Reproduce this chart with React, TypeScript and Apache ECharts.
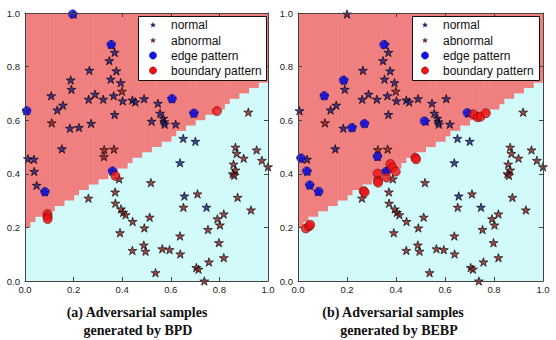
import React, { useEffect, useRef } from "react";
import * as echarts from "echarts";

// ---- data ----
const meshStep = 0.02;
// height of the decision boundary per mesh column (x from i*0.02 to (i+1)*0.02)
const boundaryHeights = [
  0.2, 0.22, 0.24, 0.24, 0.26, 0.26, 0.28, 0.28, 0.3, 0.3,
  0.32, 0.34, 0.34, 0.36, 0.36, 0.38, 0.38, 0.4, 0.4, 0.42,
  0.42, 0.44, 0.46, 0.46, 0.48, 0.48, 0.5, 0.5, 0.52, 0.52,
  0.54, 0.56, 0.56, 0.58, 0.58, 0.6, 0.6, 0.62, 0.62, 0.64,
  0.64, 0.66, 0.68, 0.68, 0.7, 0.7, 0.72, 0.72, 0.74, 0.74,
];

const normalStars = [
  [0.369, 0.853], [0.347, 0.822], [0.265, 0.786], [0.376, 0.784], [0.188, 0.75],
  [0.353, 0.753], [0.394, 0.74], [0.191, 0.715], [0.108, 0.691], [0.288, 0.697],
  [0.365, 0.691], [0.262, 0.678], [0.322, 0.678], [0.402, 0.672], [0.442, 0.675],
  [0.454, 0.668], [0.49, 0.68], [0.547, 0.663], [0.156, 0.656], [0.133, 0.638],
  [0.369, 0.621], [0.556, 0.626], [0.569, 0.607], [0.573, 0.594], [0.575, 0.585],
  [0.185, 0.57], [0.222, 0.573], [0.272, 0.588], [0.521, 0.596], [0.62, 0.585],
  [0.651, 0.532], [0.701, 0.521], [0.152, 0.493], [0.012, 0.456], [0.037, 0.454],
  [0.038, 0.409], [0.048, 0.357], [0.638, 0.441], [0.656, 0.317], [0.747, 0.275],
  [0.2, 0.996], [0.006, 0.635], [0.605, 0.68], [0.695, 0.626], [0.082, 0.333],
  [0.36, 0.41], [0.355, 0.882],
];

const abnormalStars = [
  [0.399, 0.708], [0.11, 0.59], [0.919, 0.63], [0.866, 0.499], [0.953, 0.489],
  [0.326, 0.49], [0.366, 0.492], [0.325, 0.464], [0.387, 0.381], [0.261, 0.309],
  [0.371, 0.332], [0.372, 0.29], [0.395, 0.269], [0.404, 0.256], [0.414, 0.247],
  [0.443, 0.222], [0.391, 0.18], [0.442, 0.114], [0.518, 0.367], [0.513, 0.238],
  [0.491, 0.198], [0.489, 0.134], [0.496, 0.111], [0.537, 0.031], [0.565, 0.12],
  [0.595, 0.117], [0.638, 0.168], [0.639, 0.101], [0.652, 0.275], [0.71, 0.325],
  [0.753, 0.192], [0.705, 0.05], [0.714, 0.044], [0.757, 0.071], [0.738, 0.0],
  [0.792, 0.232], [0.802, 0.209], [0.818, 0.25], [0.798, 0.143], [0.818, 0.087],
  [0.875, 0.312], [0.93, 0.265], [0.871, 0.476], [0.9, 0.458], [0.975, 0.45],
  [1.0, 0.426], [0.858, 0.436], [0.866, 0.414], [0.855, 0.4], [0.861, 0.394],
];

const edgeBPD = [
  [0.196, 0.996], [0.355, 0.882], [0.605, 0.68], [0.007, 0.635], [0.695, 0.626],
  [0.082, 0.333], [0.36, 0.41],
];
const boundaryBPD = [
  [0.79, 0.634], [0.093, 0.25], [0.093, 0.24], [0.093, 0.231], [0.372, 0.392],
];

const edgeBEBP = [
  [0.351, 0.882], [0.186, 0.749], [0.107, 0.691], [0.271, 0.587], [0.22, 0.572],
  [0.516, 0.597], [0.691, 0.628], [0.012, 0.459], [0.036, 0.41], [0.048, 0.358],
  [0.085, 0.334], [0.324, 0.465], [0.36, 0.409],
];
const boundaryBEBP = [
  [0.716, 0.622], [0.733, 0.611], [0.745, 0.613], [0.767, 0.626], [0.032, 0.196],
  [0.045, 0.204], [0.05, 0.21], [0.268, 0.336], [0.272, 0.331], [0.325, 0.401],
  [0.326, 0.374], [0.327, 0.367], [0.362, 0.386], [0.377, 0.437], [0.386, 0.423],
  [0.399, 0.408], [0.479, 0.46], [0.482, 0.454],
];

const legendNames = ["normal", "abnormal", "edge pattern", "boundary pattern"];
const captions = [
  ["(a) Adversarial samples", "generated by BPD"],
  ["(b) Adversarial samples", "generated by BEBP"],
];

// ---- styling ----
const RED_REGION = "#f08080";
const CYAN_REGION = "#d2fafa";
const NORMAL_COLOR = "#1c1c80";
const ABNORMAL_COLOR = "#8c1c1c";
const EDGE_COLOR = "#1212e8";
const BOUND_COLOR = "#ee1212";

const STAR =
  "path://M0,-50 L11.17,-15.37 L47.55,-15.45 L18.07,5.87 L29.39,40.45 L0,19 L-29.39,40.45 L-18.07,5.87 L-47.55,-15.45 L-11.17,-15.37 Z";

function starPoints(cx: number, cy: number, r: number) {
  const pts: number[][] = [];
  for (let k = 0; k < 10; k++) {
    const ang = (-90 + k * 36) * (Math.PI / 180);
    const rr = k % 2 === 0 ? r : r * 0.38;
    pts.push([cx + rr * Math.cos(ang), cy + rr * Math.sin(ang)]);
  }
  return pts;
}

const grids = [
  { left: 25, top: 13, width: 243, height: 268 },
  { left: 298, top: 13, width: 245, height: 268 },
];

export default function App() {
  const ref = useRef<HTMLDivElement>(null);

  useEffect(() => {
    if (!ref.current) return;
    const chart = echarts.init(ref.current, null, { renderer: "svg" });

    const regionData = boundaryHeights.map((h, i) => [i * meshStep, (i + 1) * meshStep, h]);
    const labelStyle = { fontSize: 9.5, color: "#1a1a1a", fontFamily: "Liberation Sans" };

    const xAxes: any[] = [];
    const yAxes: any[] = [];
    const series: any[] = [];
    grids.forEach((g, gi) => {
      const base = {
        gridIndex: gi,
        type: "value",
        min: 0,
        max: 1,
        interval: 0.2,
        z: 10,
        splitLine: { show: false },
        axisLine: { show: true, onZero: false, lineStyle: { color: "#444", width: 1 } },
        axisTick: { show: true, inside: true, length: 4, lineStyle: { color: "#444" } },
      };
      xAxes.push({
        ...base,
        position: "bottom",
        axisLabel: { ...labelStyle, margin: 3, formatter: (v: number) => v.toFixed(1) },
      });
      xAxes.push({ ...base, position: "top", axisLabel: { show: false } });
      yAxes.push({
        ...base,
        position: "left",
        axisLabel: { ...labelStyle, margin: 5, formatter: (v: number) => v.toFixed(1) },
      });
      yAxes.push({ ...base, position: "right", axisLabel: { show: false } });

      const xi = gi * 2;
      const yi = gi * 2;
      series.push({
        type: "custom",
        xAxisIndex: xi,
        yAxisIndex: yi,
        z: 1,
        silent: true,
        clip: true,
        encode: { x: [0, 1], y: 2 },
        data: regionData,
        renderItem: (params: any, api: any) => {
          const p0 = api.coord([api.value(0), 1]);
          const p1 = api.coord([api.value(1), api.value(2)]);
          return {
            type: "rect",
            shape: { x: p0[0], y: p0[1], width: p1[0] - p0[0] + 0.6, height: p1[1] - p0[1] },
            style: { fill: RED_REGION, stroke: null },
          };
        },
      });
      const starStyle = (c: string) => ({ color: c, borderColor: "#000", borderWidth: 0.8 });
      series.push({
        name: legendNames[0],
        type: "scatter",
        xAxisIndex: xi,
        yAxisIndex: yi,
        z: 2,
        symbol: STAR,
        symbolKeepAspect: true,
        symbolSize: 9,
        itemStyle: starStyle(NORMAL_COLOR),
        data: normalStars,
      });
      series.push({
        name: legendNames[1],
        type: "scatter",
        xAxisIndex: xi,
        yAxisIndex: yi,
        z: 3,
        symbol: STAR,
        symbolKeepAspect: true,
        symbolSize: 9,
        itemStyle: starStyle(ABNORMAL_COLOR),
        data: abnormalStars,
      });
      series.push({
        name: legendNames[2],
        type: "scatter",
        xAxisIndex: xi,
        yAxisIndex: yi,
        z: 4,
        symbol: "circle",
        symbolSize: 8.5,
        itemStyle: { color: EDGE_COLOR, borderColor: "#00006a", borderWidth: 0.6 },
        data: gi === 0 ? edgeBPD : edgeBEBP,
      });
      series.push({
        name: legendNames[3],
        type: "scatter",
        xAxisIndex: xi,
        yAxisIndex: yi,
        z: 5,
        symbol: "circle",
        symbolSize: 9,
        itemStyle: { color: BOUND_COLOR, borderColor: "#6a0000", borderWidth: 0.7 },
        data: gi === 0 ? boundaryBPD : boundaryBEBP,
      });
    });

    // legends drawn as graphics (matplotlib-style boxed legend)
    const legendBoxes = [
      { x: 138, w: 128, mx: 153, tx: 171 },
      { x: 412, w: 127, mx: 425, tx: 443 },
    ];
    const rowY = [25, 40.5, 55.5, 70.5];
    const graphics: any[] = [];
    legendBoxes.forEach((b) => {
      graphics.push({
        type: "rect",
        z: 100,
        shape: { x: b.x + 0.5, y: 16.5, width: b.w, height: 64 },
        style: { fill: "#fff", stroke: "#111", lineWidth: 1 },
      });
      const colors = [NORMAL_COLOR, ABNORMAL_COLOR];
      [0, 1].forEach((k) => {
        graphics.push({
          type: "polygon",
          z: 101,
          shape: { points: starPoints(b.mx, rowY[k], 2.6) },
          style: { fill: colors[k], stroke: "#111", lineWidth: 0.4 },
        });
      });
      graphics.push({
        type: "circle",
        z: 101,
        shape: { cx: b.mx, cy: rowY[2], r: 3.6 },
        style: { fill: EDGE_COLOR, stroke: "#00006a", lineWidth: 0.5 },
      });
      graphics.push({
        type: "circle",
        z: 101,
        shape: { cx: b.mx, cy: rowY[3], r: 3.6 },
        style: { fill: BOUND_COLOR, stroke: "#6a0000", lineWidth: 0.5 },
      });
      legendNames.forEach((n, k) => {
        graphics.push({
          type: "text",
          z: 101,
          x: b.tx,
          y: rowY[k],
          style: {
            text: n,
            fontSize: 12,
            fontFamily: "Liberation Sans",
            fill: "#111",
            verticalAlign: "middle",
            align: "left",
          },
        });
      });
    });

    const capX = [
      [137, 138],
      [393, 399],
    ];
    captions.forEach((lines, ci) => {
      lines.forEach((t, li) => {
        graphics.push({
          type: "text",
          z: 101,
          x: capX[ci][li],
          y: 312 + li * 18,
          style: {
            text: t,
            fontSize: 14,
            fontWeight: "bold",
            fontFamily: "Liberation Serif",
            fill: "#111",
            align: "center",
            verticalAlign: "middle",
          },
        });
      });
    });

    chart.setOption({
      animation: false,
      backgroundColor: "#fff",
      grid: grids.map((g) => ({
        ...g,
        show: true,
        backgroundColor: CYAN_REGION,
        borderWidth: 0,
      })),
      xAxis: xAxes,
      yAxis: yAxes,
      series,
      graphic: graphics,
    });

    return () => chart.dispose();
  }, []);

  return (
    <div
      ref={ref}
      style={{ position: "fixed", left: 0, top: 0, width: 556, height: 340 }}
    />
  );
}
